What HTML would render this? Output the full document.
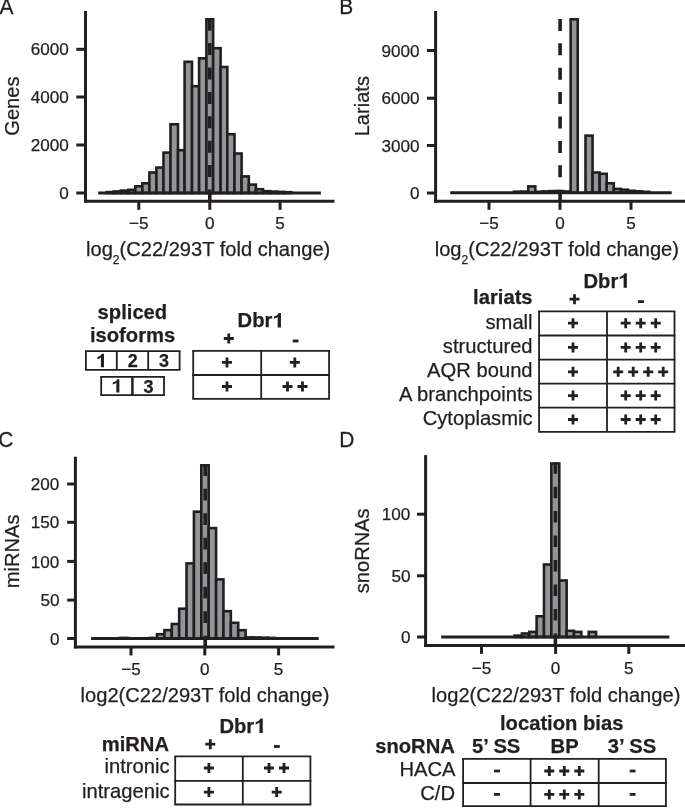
<!DOCTYPE html>
<html><head><meta charset="utf-8"><style>
html,body{margin:0;padding:0;background:#ffffff;}
svg{display:block;will-change:transform;}
text{font-family:"Liberation Sans",sans-serif;fill:#231f20;stroke:#231f20;stroke-width:0.25px;stroke-linejoin:round;}
</style></head><body>
<svg width="685" height="808" viewBox="0 0 685 808">
<rect width="685" height="808" fill="#ffffff"/>
<rect x="106.60" y="192.10" width="7.20" height="0.90" fill="#939598" stroke="#231f20" stroke-width="2.6"/>
<rect x="113.80" y="191.50" width="7.00" height="1.50" fill="#939598" stroke="#231f20" stroke-width="2.6"/>
<rect x="120.80" y="190.60" width="7.60" height="2.40" fill="#939598" stroke="#231f20" stroke-width="2.6"/>
<rect x="128.40" y="189.80" width="7.00" height="3.20" fill="#939598" stroke="#231f20" stroke-width="2.6"/>
<rect x="135.40" y="186.30" width="7.00" height="6.70" fill="#939598" stroke="#231f20" stroke-width="2.6"/>
<rect x="142.40" y="183.30" width="7.00" height="9.70" fill="#939598" stroke="#231f20" stroke-width="2.6"/>
<rect x="149.40" y="172.50" width="7.00" height="20.50" fill="#939598" stroke="#231f20" stroke-width="2.6"/>
<rect x="156.40" y="167.60" width="7.10" height="25.40" fill="#939598" stroke="#231f20" stroke-width="2.6"/>
<rect x="163.50" y="152.60" width="7.00" height="40.40" fill="#939598" stroke="#231f20" stroke-width="2.6"/>
<rect x="170.50" y="124.30" width="7.50" height="68.70" fill="#939598" stroke="#231f20" stroke-width="2.6"/>
<rect x="178.00" y="150.20" width="6.60" height="42.80" fill="#939598" stroke="#231f20" stroke-width="2.6"/>
<rect x="184.60" y="61.80" width="7.40" height="131.20" fill="#939598" stroke="#231f20" stroke-width="2.6"/>
<rect x="192.00" y="86.20" width="7.10" height="106.80" fill="#939598" stroke="#231f20" stroke-width="2.6"/>
<rect x="199.10" y="58.30" width="7.30" height="134.70" fill="#939598" stroke="#231f20" stroke-width="2.6"/>
<rect x="206.40" y="19.30" width="6.75" height="173.70" fill="#939598" stroke="#231f20" stroke-width="2.6"/>
<rect x="213.15" y="48.20" width="7.45" height="144.80" fill="#939598" stroke="#231f20" stroke-width="2.6"/>
<rect x="220.60" y="67.00" width="6.70" height="126.00" fill="#939598" stroke="#231f20" stroke-width="2.6"/>
<rect x="227.30" y="134.20" width="7.20" height="58.80" fill="#939598" stroke="#231f20" stroke-width="2.6"/>
<rect x="234.50" y="153.50" width="7.10" height="39.50" fill="#939598" stroke="#231f20" stroke-width="2.6"/>
<rect x="241.60" y="176.40" width="7.20" height="16.60" fill="#939598" stroke="#231f20" stroke-width="2.6"/>
<rect x="248.80" y="184.60" width="7.10" height="8.40" fill="#939598" stroke="#231f20" stroke-width="2.6"/>
<rect x="255.90" y="189.20" width="7.10" height="3.80" fill="#939598" stroke="#231f20" stroke-width="2.6"/>
<rect x="263.00" y="191.20" width="7.10" height="1.80" fill="#939598" stroke="#231f20" stroke-width="2.6"/>
<rect x="270.10" y="191.60" width="7.10" height="1.40" fill="#939598" stroke="#231f20" stroke-width="2.6"/>
<rect x="277.20" y="191.90" width="7.10" height="1.10" fill="#939598" stroke="#231f20" stroke-width="2.6"/>
<rect x="284.30" y="192.20" width="7.10" height="0.80" fill="#939598" stroke="#231f20" stroke-width="2.6"/>
<line x1="98.20" y1="193.00" x2="320.90" y2="193.00" stroke="#231f20" stroke-width="3.0"/>
<line x1="209.80" y1="18.70" x2="209.80" y2="200.00" stroke="#231f20" stroke-width="3.6" stroke-dasharray="12 12.4" stroke-dashoffset="0"/>
<line x1="85.50" y1="11.00" x2="85.50" y2="202.80" stroke="#231f20" stroke-width="3.0"/>
<line x1="84.00" y1="201.30" x2="334.50" y2="201.30" stroke="#231f20" stroke-width="3.0"/>
<line x1="76.30" y1="49.30" x2="85.50" y2="49.30" stroke="#231f20" stroke-width="3.0"/>
<text x="68.80" y="55.42" font-size="17.1" text-anchor="end">6000</text>
<line x1="76.30" y1="97.00" x2="85.50" y2="97.00" stroke="#231f20" stroke-width="3.0"/>
<text x="68.80" y="103.12" font-size="17.1" text-anchor="end">4000</text>
<line x1="76.30" y1="145.00" x2="85.50" y2="145.00" stroke="#231f20" stroke-width="3.0"/>
<text x="68.80" y="151.12" font-size="17.1" text-anchor="end">2000</text>
<line x1="76.30" y1="193.00" x2="85.50" y2="193.00" stroke="#231f20" stroke-width="3.0"/>
<text x="68.80" y="199.12" font-size="17.1" text-anchor="end">0</text>
<line x1="138.80" y1="201.30" x2="138.80" y2="209.80" stroke="#231f20" stroke-width="3.0"/>
<text x="138.80" y="229.00" font-size="17.1" text-anchor="middle">&#8722;5</text>
<line x1="209.80" y1="201.30" x2="209.80" y2="209.80" stroke="#231f20" stroke-width="3.0"/>
<text x="209.80" y="229.00" font-size="17.1" text-anchor="middle">0</text>
<line x1="280.10" y1="201.30" x2="280.10" y2="209.80" stroke="#231f20" stroke-width="3.0"/>
<text x="280.10" y="229.00" font-size="17.1" text-anchor="middle">5</text>
<rect x="514.10" y="191.70" width="7.07" height="1.00" fill="#939598" stroke="#231f20" stroke-width="2.6"/>
<rect x="521.16" y="191.60" width="7.07" height="1.10" fill="#939598" stroke="#231f20" stroke-width="2.6"/>
<rect x="528.24" y="186.40" width="7.07" height="6.30" fill="#939598" stroke="#231f20" stroke-width="2.6"/>
<rect x="535.30" y="191.80" width="7.07" height="0.90" fill="#939598" stroke="#231f20" stroke-width="2.6"/>
<rect x="542.38" y="191.40" width="7.07" height="1.30" fill="#939598" stroke="#231f20" stroke-width="2.6"/>
<rect x="549.44" y="191.10" width="7.07" height="1.60" fill="#939598" stroke="#231f20" stroke-width="2.6"/>
<rect x="556.51" y="191.10" width="7.07" height="1.60" fill="#939598" stroke="#231f20" stroke-width="2.6"/>
<rect x="563.59" y="191.50" width="7.07" height="1.20" fill="#939598" stroke="#231f20" stroke-width="2.6"/>
<rect x="570.65" y="19.30" width="7.07" height="173.40" fill="#939598" stroke="#231f20" stroke-width="2.6"/>
<rect x="585.50" y="135.60" width="7.07" height="57.10" fill="#939598" stroke="#231f20" stroke-width="2.6"/>
<rect x="592.57" y="172.50" width="7.07" height="20.20" fill="#939598" stroke="#231f20" stroke-width="2.6"/>
<rect x="599.63" y="173.80" width="7.07" height="18.90" fill="#939598" stroke="#231f20" stroke-width="2.6"/>
<rect x="606.71" y="183.30" width="7.07" height="9.40" fill="#939598" stroke="#231f20" stroke-width="2.6"/>
<rect x="613.78" y="188.90" width="7.07" height="3.80" fill="#939598" stroke="#231f20" stroke-width="2.6"/>
<rect x="620.85" y="189.70" width="7.07" height="3.00" fill="#939598" stroke="#231f20" stroke-width="2.6"/>
<rect x="627.92" y="190.80" width="7.07" height="1.90" fill="#939598" stroke="#231f20" stroke-width="2.6"/>
<rect x="634.99" y="191.30" width="7.07" height="1.40" fill="#939598" stroke="#231f20" stroke-width="2.6"/>
<rect x="642.06" y="191.80" width="7.07" height="0.90" fill="#939598" stroke="#231f20" stroke-width="2.6"/>
<line x1="450.20" y1="192.70" x2="671.70" y2="192.70" stroke="#231f20" stroke-width="3.0"/>
<line x1="560.10" y1="18.90" x2="560.10" y2="200.50" stroke="#231f20" stroke-width="3.6" stroke-dasharray="12 12.4" stroke-dashoffset="0"/>
<line x1="435.60" y1="11.00" x2="435.60" y2="202.80" stroke="#231f20" stroke-width="3.0"/>
<line x1="434.10" y1="201.30" x2="685.00" y2="201.30" stroke="#231f20" stroke-width="3.0"/>
<line x1="426.90" y1="50.50" x2="435.60" y2="50.50" stroke="#231f20" stroke-width="3.0"/>
<text x="419.50" y="56.62" font-size="17.1" text-anchor="end">9000</text>
<line x1="426.90" y1="98.20" x2="435.60" y2="98.20" stroke="#231f20" stroke-width="3.0"/>
<text x="419.50" y="104.32" font-size="17.1" text-anchor="end">6000</text>
<line x1="426.90" y1="145.50" x2="435.60" y2="145.50" stroke="#231f20" stroke-width="3.0"/>
<text x="419.50" y="151.62" font-size="17.1" text-anchor="end">3000</text>
<line x1="426.90" y1="193.00" x2="435.60" y2="193.00" stroke="#231f20" stroke-width="3.0"/>
<text x="419.50" y="199.12" font-size="17.1" text-anchor="end">0</text>
<line x1="489.00" y1="201.30" x2="489.00" y2="209.80" stroke="#231f20" stroke-width="3.0"/>
<text x="489.00" y="229.00" font-size="17.1" text-anchor="middle">&#8722;5</text>
<line x1="560.00" y1="201.30" x2="560.00" y2="209.80" stroke="#231f20" stroke-width="3.0"/>
<text x="560.00" y="229.00" font-size="17.1" text-anchor="middle">0</text>
<line x1="631.00" y1="201.30" x2="631.00" y2="209.80" stroke="#231f20" stroke-width="3.0"/>
<text x="631.00" y="229.00" font-size="17.1" text-anchor="middle">5</text>
<rect x="120.13" y="637.90" width="7.38" height="0.60" fill="#939598" stroke="#231f20" stroke-width="2.6"/>
<rect x="149.65" y="637.90" width="7.38" height="0.60" fill="#939598" stroke="#231f20" stroke-width="2.6"/>
<rect x="157.03" y="634.20" width="7.38" height="4.30" fill="#939598" stroke="#231f20" stroke-width="2.6"/>
<rect x="164.41" y="630.10" width="7.38" height="8.40" fill="#939598" stroke="#231f20" stroke-width="2.6"/>
<rect x="171.79" y="624.00" width="7.38" height="14.50" fill="#939598" stroke="#231f20" stroke-width="2.6"/>
<rect x="179.17" y="608.70" width="7.38" height="29.80" fill="#939598" stroke="#231f20" stroke-width="2.6"/>
<rect x="186.55" y="563.40" width="7.38" height="75.10" fill="#939598" stroke="#231f20" stroke-width="2.6"/>
<rect x="193.93" y="511.70" width="7.38" height="126.80" fill="#939598" stroke="#231f20" stroke-width="2.6"/>
<rect x="201.31" y="465.30" width="7.38" height="173.20" fill="#939598" stroke="#231f20" stroke-width="2.6"/>
<rect x="208.69" y="528.10" width="7.38" height="110.40" fill="#939598" stroke="#231f20" stroke-width="2.6"/>
<rect x="216.07" y="579.40" width="7.38" height="59.10" fill="#939598" stroke="#231f20" stroke-width="2.6"/>
<rect x="223.45" y="611.20" width="7.38" height="27.30" fill="#939598" stroke="#231f20" stroke-width="2.6"/>
<rect x="230.83" y="622.80" width="7.38" height="15.70" fill="#939598" stroke="#231f20" stroke-width="2.6"/>
<rect x="238.21" y="630.20" width="7.38" height="8.30" fill="#939598" stroke="#231f20" stroke-width="2.6"/>
<rect x="245.59" y="637.40" width="7.38" height="1.10" fill="#939598" stroke="#231f20" stroke-width="2.6"/>
<rect x="252.97" y="637.50" width="7.38" height="1.00" fill="#939598" stroke="#231f20" stroke-width="2.6"/>
<rect x="260.35" y="637.70" width="7.38" height="0.80" fill="#939598" stroke="#231f20" stroke-width="2.6"/>
<rect x="267.73" y="637.90" width="7.38" height="0.60" fill="#939598" stroke="#231f20" stroke-width="2.6"/>
<line x1="91.10" y1="638.50" x2="318.70" y2="638.50" stroke="#231f20" stroke-width="3.0"/>
<line x1="205.20" y1="464.30" x2="205.20" y2="646.00" stroke="#231f20" stroke-width="3.6" stroke-dasharray="11.6 12.9" stroke-dashoffset="0"/>
<line x1="75.40" y1="456.70" x2="75.40" y2="648.40" stroke="#231f20" stroke-width="3.0"/>
<line x1="73.90" y1="646.90" x2="334.50" y2="646.90" stroke="#231f20" stroke-width="3.0"/>
<line x1="67.20" y1="484.00" x2="75.40" y2="484.00" stroke="#231f20" stroke-width="3.0"/>
<text x="59.40" y="490.12" font-size="17.1" text-anchor="end">200</text>
<line x1="67.20" y1="522.30" x2="75.40" y2="522.30" stroke="#231f20" stroke-width="3.0"/>
<text x="59.40" y="528.42" font-size="17.1" text-anchor="end">150</text>
<line x1="67.20" y1="561.40" x2="75.40" y2="561.40" stroke="#231f20" stroke-width="3.0"/>
<text x="59.40" y="567.52" font-size="17.1" text-anchor="end">100</text>
<line x1="67.20" y1="600.10" x2="75.40" y2="600.10" stroke="#231f20" stroke-width="3.0"/>
<text x="59.40" y="606.22" font-size="17.1" text-anchor="end">50</text>
<line x1="67.20" y1="638.50" x2="75.40" y2="638.50" stroke="#231f20" stroke-width="3.0"/>
<text x="59.40" y="644.62" font-size="17.1" text-anchor="end">0</text>
<line x1="131.00" y1="646.90" x2="131.00" y2="655.40" stroke="#231f20" stroke-width="3.0"/>
<text x="131.00" y="675.00" font-size="17.1" text-anchor="middle">&#8722;5</text>
<line x1="204.80" y1="646.90" x2="204.80" y2="655.40" stroke="#231f20" stroke-width="3.0"/>
<text x="204.80" y="675.00" font-size="17.1" text-anchor="middle">0</text>
<line x1="278.60" y1="646.90" x2="278.60" y2="655.40" stroke="#231f20" stroke-width="3.0"/>
<text x="278.60" y="675.00" font-size="17.1" text-anchor="middle">5</text>
<rect x="514.58" y="635.60" width="7.35" height="1.40" fill="#939598" stroke="#231f20" stroke-width="2.6"/>
<rect x="521.93" y="633.50" width="7.35" height="3.50" fill="#939598" stroke="#231f20" stroke-width="2.6"/>
<rect x="529.28" y="631.90" width="7.35" height="5.10" fill="#939598" stroke="#231f20" stroke-width="2.6"/>
<rect x="536.62" y="616.30" width="7.35" height="20.70" fill="#939598" stroke="#231f20" stroke-width="2.6"/>
<rect x="543.98" y="564.50" width="7.35" height="72.50" fill="#939598" stroke="#231f20" stroke-width="2.6"/>
<rect x="551.33" y="463.50" width="7.95" height="173.50" fill="#939598" stroke="#231f20" stroke-width="2.6"/>
<rect x="559.28" y="580.50" width="7.35" height="56.50" fill="#939598" stroke="#231f20" stroke-width="2.6"/>
<rect x="566.63" y="630.80" width="7.35" height="6.20" fill="#939598" stroke="#231f20" stroke-width="2.6"/>
<rect x="573.98" y="631.90" width="7.35" height="5.10" fill="#939598" stroke="#231f20" stroke-width="2.6"/>
<rect x="588.68" y="631.90" width="7.35" height="5.10" fill="#939598" stroke="#231f20" stroke-width="2.6"/>
<line x1="441.20" y1="637.00" x2="669.30" y2="637.00" stroke="#231f20" stroke-width="3.0"/>
<line x1="555.40" y1="462.20" x2="555.40" y2="645.00" stroke="#231f20" stroke-width="3.6" stroke-dasharray="11.5 12.96" stroke-dashoffset="0"/>
<line x1="425.60" y1="455.10" x2="425.60" y2="646.90" stroke="#231f20" stroke-width="3.0"/>
<line x1="424.10" y1="645.40" x2="685.00" y2="645.40" stroke="#231f20" stroke-width="3.0"/>
<line x1="417.00" y1="514.20" x2="425.60" y2="514.20" stroke="#231f20" stroke-width="3.0"/>
<text x="410.40" y="520.32" font-size="17.1" text-anchor="end">100</text>
<line x1="417.00" y1="575.80" x2="425.60" y2="575.80" stroke="#231f20" stroke-width="3.0"/>
<text x="410.40" y="581.92" font-size="17.1" text-anchor="end">50</text>
<line x1="417.00" y1="637.00" x2="425.60" y2="637.00" stroke="#231f20" stroke-width="3.0"/>
<text x="410.40" y="643.12" font-size="17.1" text-anchor="end">0</text>
<line x1="481.50" y1="645.40" x2="481.50" y2="653.90" stroke="#231f20" stroke-width="3.0"/>
<text x="481.50" y="673.50" font-size="17.1" text-anchor="middle">&#8722;5</text>
<line x1="555.60" y1="645.40" x2="555.60" y2="653.90" stroke="#231f20" stroke-width="3.0"/>
<text x="555.60" y="673.50" font-size="17.1" text-anchor="middle">0</text>
<line x1="628.80" y1="645.40" x2="628.80" y2="653.90" stroke="#231f20" stroke-width="3.0"/>
<text x="628.80" y="673.50" font-size="17.1" text-anchor="middle">5</text>
<text x="86" y="255.6" font-size="20.1">log<tspan font-size="12" dy="8">2</tspan><tspan dy="-8">(C22/293T fold change)</tspan></text>
<text x="434.7" y="255.6" font-size="20.1">log<tspan font-size="12" dy="8">2</tspan><tspan dy="-8">(C22/293T fold change)</tspan></text>
<text x="80.60" y="701.70" font-size="20.1" text-anchor="start">log2(C22/293T fold change)</text>
<text x="431.60" y="701.70" font-size="20.1" text-anchor="start">log2(C22/293T fold change)</text>
<text x="0" y="0" font-size="20.1" text-anchor="middle" transform="translate(19.20,106.10) rotate(-90)">Genes</text>
<text x="0" y="0" font-size="20.1" text-anchor="middle" transform="translate(369.30,106.20) rotate(-90)">Lariats</text>
<text x="0" y="0" font-size="20.1" text-anchor="middle" transform="translate(19.00,551.40) rotate(-90)">miRNAs</text>
<text x="0" y="0" font-size="20.1" text-anchor="middle" transform="translate(369.20,550.80) rotate(-90)">snoRNAs</text>
<text x="0" y="0" font-size="21" transform="translate(-0.56,14.0) scale(1,1.02)">A</text>
<text x="0" y="0" font-size="21" transform="translate(339.2,14.0) scale(1,1.02)">B</text>
<text x="0" y="0" font-size="21" transform="translate(-1.8,446.7) scale(1,1.02)">C</text>
<text x="0" y="0" font-size="21" transform="translate(339.2,446.5) scale(1,1.02)">D</text>
<text x="132.40" y="318.70" font-size="20.2" text-anchor="middle" font-weight="bold">spliced</text>
<text x="132.60" y="342.00" font-size="20.2" text-anchor="middle" font-weight="bold">isoforms</text>
<line x1="85.00" y1="351.20" x2="180.50" y2="351.20" stroke="#231f20" stroke-width="1.8"/>
<line x1="85.00" y1="369.80" x2="180.50" y2="369.80" stroke="#231f20" stroke-width="1.8"/>
<line x1="85.90" y1="351.20" x2="85.90" y2="369.80" stroke="#231f20" stroke-width="1.8"/>
<line x1="116.80" y1="351.20" x2="116.80" y2="369.80" stroke="#231f20" stroke-width="1.8"/>
<line x1="148.20" y1="351.20" x2="148.20" y2="369.80" stroke="#231f20" stroke-width="1.8"/>
<line x1="179.60" y1="351.20" x2="179.60" y2="369.80" stroke="#231f20" stroke-width="1.8"/>
<line x1="100.30" y1="376.90" x2="164.90" y2="376.90" stroke="#231f20" stroke-width="1.8"/>
<line x1="100.30" y1="395.10" x2="164.90" y2="395.10" stroke="#231f20" stroke-width="1.8"/>
<line x1="101.20" y1="376.90" x2="101.20" y2="395.10" stroke="#231f20" stroke-width="1.8"/>
<line x1="164.00" y1="376.90" x2="164.00" y2="395.10" stroke="#231f20" stroke-width="1.8"/>
<line x1="132.4" y1="376.9" x2="132.4" y2="395.1" stroke="#231f20" stroke-width="2.5"/>
<text x="132.70" y="367.20" font-size="18" text-anchor="middle" font-weight="bold">2</text>
<text x="163.90" y="367.20" font-size="18" text-anchor="middle" font-weight="bold">3</text>
<text x="148.60" y="392.50" font-size="18" text-anchor="middle" font-weight="bold">3</text>
<path d="M103.98 367.30L103.98 353.84L101.82 353.84C101.25 355.46 99.56 356.68 97.40 357.05L97.40 359.22C98.81 358.93 100.13 358.28 100.92 357.52L100.92 367.30Z" fill="#231f20"/>
<path d="M119.38 392.60L119.38 379.14L117.22 379.14C116.65 380.76 114.96 381.98 112.80 382.35L112.80 384.52C114.21 384.23 115.53 383.58 116.32 382.82L116.32 392.60Z" fill="#231f20"/>
<text x="237.59" y="327.40" font-size="20.2" font-weight="bold">Dbr</text>
<path d="M280.96 327.40L280.96 312.94L278.64 312.94C278.03 314.67 276.21 315.99 273.89 316.39L273.89 318.71C275.41 318.41 276.82 317.70 277.67 316.90L277.67 327.40Z" fill="#231f20"/>
<path d="M223.80 338.50H233.80M228.80 333.50V343.50" stroke="#231f20" stroke-width="2.8" fill="none"/>
<path d="M292.70 341.00H298.50" stroke="#231f20" stroke-width="2.8" fill="none"/>
<line x1="192.30" y1="350.90" x2="330.00" y2="350.90" stroke="#231f20" stroke-width="1.8"/>
<line x1="192.30" y1="375.00" x2="330.00" y2="375.00" stroke="#231f20" stroke-width="1.8"/>
<line x1="192.30" y1="398.90" x2="330.00" y2="398.90" stroke="#231f20" stroke-width="1.8"/>
<line x1="193.20" y1="350.90" x2="193.20" y2="398.90" stroke="#231f20" stroke-width="1.8"/>
<line x1="261.20" y1="350.90" x2="261.20" y2="398.90" stroke="#231f20" stroke-width="1.8"/>
<line x1="329.10" y1="350.90" x2="329.10" y2="398.90" stroke="#231f20" stroke-width="1.8"/>
<path d="M222.00 362.40H232.00M227.00 357.40V367.40" stroke="#231f20" stroke-width="2.8" fill="none"/>
<path d="M289.80 362.40H299.80M294.80 357.40V367.40" stroke="#231f20" stroke-width="2.8" fill="none"/>
<path d="M222.00 386.50H232.00M227.00 381.50V391.50" stroke="#231f20" stroke-width="2.8" fill="none"/>
<path d="M282.50 386.50H292.50M287.50 381.50V391.50" stroke="#231f20" stroke-width="2.8" fill="none"/>
<path d="M297.50 386.50H307.50M302.50 381.50V391.50" stroke="#231f20" stroke-width="2.8" fill="none"/>
<text x="583.49" y="287.70" font-size="20.2" font-weight="bold">Dbr</text>
<path d="M626.86 287.70L626.86 273.24L624.54 273.24C623.93 274.97 622.11 276.29 619.79 276.69L619.79 279.01C621.31 278.71 622.72 278.00 623.57 277.20L623.57 287.70Z" fill="#231f20"/>
<text x="532.60" y="303.90" font-size="20.2" text-anchor="end" font-weight="bold">lariats</text>
<path d="M569.50 299.20H579.50M574.50 294.20V304.20" stroke="#231f20" stroke-width="2.8" fill="none"/>
<path d="M638.10 301.60H643.90" stroke="#231f20" stroke-width="2.8" fill="none"/>
<line x1="538.15" y1="311.40" x2="675.40" y2="311.40" stroke="#231f20" stroke-width="1.8"/>
<line x1="538.15" y1="335.50" x2="675.40" y2="335.50" stroke="#231f20" stroke-width="1.8"/>
<line x1="538.15" y1="359.60" x2="675.40" y2="359.60" stroke="#231f20" stroke-width="1.8"/>
<line x1="538.15" y1="383.60" x2="675.40" y2="383.60" stroke="#231f20" stroke-width="1.8"/>
<line x1="538.15" y1="407.70" x2="675.40" y2="407.70" stroke="#231f20" stroke-width="1.8"/>
<line x1="538.15" y1="431.80" x2="675.40" y2="431.80" stroke="#231f20" stroke-width="1.8"/>
<line x1="539.05" y1="311.40" x2="539.05" y2="431.80" stroke="#231f20" stroke-width="1.8"/>
<line x1="607.00" y1="311.40" x2="607.00" y2="431.80" stroke="#231f20" stroke-width="1.8"/>
<line x1="674.50" y1="311.40" x2="674.50" y2="431.80" stroke="#231f20" stroke-width="1.8"/>
<text x="532.60" y="328.60" font-size="20.2" text-anchor="end">small</text>
<text x="532.60" y="352.70" font-size="20.2" text-anchor="end">structured</text>
<text x="532.60" y="376.80" font-size="20.2" text-anchor="end">AQR bound</text>
<text x="532.60" y="400.90" font-size="20.2" text-anchor="end">A branchpoints</text>
<text x="532.60" y="424.60" font-size="20.2" text-anchor="end">Cytoplasmic</text>
<path d="M568.00 323.20H578.00M573.00 318.20V328.20" stroke="#231f20" stroke-width="2.8" fill="none"/>
<path d="M620.70 323.20H630.70M625.70 318.20V328.20" stroke="#231f20" stroke-width="2.8" fill="none"/>
<path d="M635.70 323.20H645.70M640.70 318.20V328.20" stroke="#231f20" stroke-width="2.8" fill="none"/>
<path d="M650.70 323.20H660.70M655.70 318.20V328.20" stroke="#231f20" stroke-width="2.8" fill="none"/>
<path d="M568.00 347.40H578.00M573.00 342.40V352.40" stroke="#231f20" stroke-width="2.8" fill="none"/>
<path d="M620.70 347.40H630.70M625.70 342.40V352.40" stroke="#231f20" stroke-width="2.8" fill="none"/>
<path d="M635.70 347.40H645.70M640.70 342.40V352.40" stroke="#231f20" stroke-width="2.8" fill="none"/>
<path d="M650.70 347.40H660.70M655.70 342.40V352.40" stroke="#231f20" stroke-width="2.8" fill="none"/>
<path d="M568.00 371.80H578.00M573.00 366.80V376.80" stroke="#231f20" stroke-width="2.8" fill="none"/>
<path d="M613.20 371.80H623.20M618.20 366.80V376.80" stroke="#231f20" stroke-width="2.8" fill="none"/>
<path d="M628.20 371.80H638.20M633.20 366.80V376.80" stroke="#231f20" stroke-width="2.8" fill="none"/>
<path d="M643.20 371.80H653.20M648.20 366.80V376.80" stroke="#231f20" stroke-width="2.8" fill="none"/>
<path d="M658.20 371.80H668.20M663.20 366.80V376.80" stroke="#231f20" stroke-width="2.8" fill="none"/>
<path d="M568.00 395.60H578.00M573.00 390.60V400.60" stroke="#231f20" stroke-width="2.8" fill="none"/>
<path d="M620.70 395.60H630.70M625.70 390.60V400.60" stroke="#231f20" stroke-width="2.8" fill="none"/>
<path d="M635.70 395.60H645.70M640.70 390.60V400.60" stroke="#231f20" stroke-width="2.8" fill="none"/>
<path d="M650.70 395.60H660.70M655.70 390.60V400.60" stroke="#231f20" stroke-width="2.8" fill="none"/>
<path d="M568.00 419.50H578.00M573.00 414.50V424.50" stroke="#231f20" stroke-width="2.8" fill="none"/>
<path d="M620.70 419.50H630.70M625.70 414.50V424.50" stroke="#231f20" stroke-width="2.8" fill="none"/>
<path d="M635.70 419.50H645.70M640.70 414.50V424.50" stroke="#231f20" stroke-width="2.8" fill="none"/>
<path d="M650.70 419.50H660.70M655.70 414.50V424.50" stroke="#231f20" stroke-width="2.8" fill="none"/>
<text x="219.39" y="733.00" font-size="20.2" font-weight="bold">Dbr</text>
<path d="M262.76 733.00L262.76 718.54L260.44 718.54C259.83 720.27 258.01 721.59 255.69 721.99L255.69 724.31C257.21 724.01 258.62 723.30 259.47 722.50L259.47 733.00Z" fill="#231f20"/>
<text x="169.00" y="750.80" font-size="20.2" text-anchor="end" font-weight="bold">miRNA</text>
<path d="M205.30 744.20H215.30M210.30 739.20V749.20" stroke="#231f20" stroke-width="2.8" fill="none"/>
<path d="M274.00 746.50H279.80" stroke="#231f20" stroke-width="2.8" fill="none"/>
<line x1="174.30" y1="756.30" x2="311.30" y2="756.30" stroke="#231f20" stroke-width="1.8"/>
<line x1="174.30" y1="780.80" x2="311.30" y2="780.80" stroke="#231f20" stroke-width="1.8"/>
<line x1="174.30" y1="804.50" x2="311.30" y2="804.50" stroke="#231f20" stroke-width="1.8"/>
<line x1="175.20" y1="756.30" x2="175.20" y2="804.50" stroke="#231f20" stroke-width="1.8"/>
<line x1="242.80" y1="756.30" x2="242.80" y2="804.50" stroke="#231f20" stroke-width="1.8"/>
<line x1="310.40" y1="756.30" x2="310.40" y2="804.50" stroke="#231f20" stroke-width="1.8"/>
<text x="169.60" y="773.20" font-size="20.2" text-anchor="end">intronic</text>
<text x="169.60" y="797.80" font-size="20.2" text-anchor="end">intragenic</text>
<path d="M203.90 768.00H213.90M208.90 763.00V773.00" stroke="#231f20" stroke-width="2.8" fill="none"/>
<path d="M264.00 768.00H274.00M269.00 763.00V773.00" stroke="#231f20" stroke-width="2.8" fill="none"/>
<path d="M279.00 768.00H289.00M284.00 763.00V773.00" stroke="#231f20" stroke-width="2.8" fill="none"/>
<path d="M203.90 792.10H213.90M208.90 787.10V797.10" stroke="#231f20" stroke-width="2.8" fill="none"/>
<path d="M271.70 792.10H281.70M276.70 787.10V797.10" stroke="#231f20" stroke-width="2.8" fill="none"/>
<text x="561.70" y="729.90" font-size="20.2" text-anchor="middle" font-weight="bold">location bias</text>
<text x="454.80" y="752.80" font-size="20.2" text-anchor="end" font-weight="bold">snoRNA</text>
<text x="496.20" y="752.90" font-size="20.2" text-anchor="middle" font-weight="bold">5&#8217; SS</text>
<text x="564.60" y="752.90" font-size="20.2" text-anchor="middle" font-weight="bold">BP</text>
<text x="632.00" y="752.90" font-size="20.2" text-anchor="middle" font-weight="bold">3&#8217; SS</text>
<line x1="462.20" y1="758.90" x2="666.80" y2="758.90" stroke="#231f20" stroke-width="1.8"/>
<line x1="462.20" y1="783.00" x2="666.80" y2="783.00" stroke="#231f20" stroke-width="1.8"/>
<line x1="462.20" y1="806.20" x2="666.80" y2="806.20" stroke="#231f20" stroke-width="1.8"/>
<line x1="463.10" y1="758.90" x2="463.10" y2="806.20" stroke="#231f20" stroke-width="1.8"/>
<line x1="530.60" y1="758.90" x2="530.60" y2="806.20" stroke="#231f20" stroke-width="1.8"/>
<line x1="598.70" y1="758.90" x2="598.70" y2="806.20" stroke="#231f20" stroke-width="1.8"/>
<line x1="665.90" y1="758.90" x2="665.90" y2="806.20" stroke="#231f20" stroke-width="1.8"/>
<text x="455.50" y="776.10" font-size="20.2" text-anchor="end">HACA</text>
<text x="455.00" y="799.90" font-size="20.2" text-anchor="end">C/D</text>
<path d="M494.10 771.00H499.90" stroke="#231f20" stroke-width="2.8" fill="none"/>
<path d="M544.30 771.00H554.30M549.30 766.00V776.00" stroke="#231f20" stroke-width="2.8" fill="none"/>
<path d="M559.30 771.00H569.30M564.30 766.00V776.00" stroke="#231f20" stroke-width="2.8" fill="none"/>
<path d="M574.30 771.00H584.30M579.30 766.00V776.00" stroke="#231f20" stroke-width="2.8" fill="none"/>
<path d="M629.70 771.00H635.50" stroke="#231f20" stroke-width="2.8" fill="none"/>
<path d="M494.10 794.40H499.90" stroke="#231f20" stroke-width="2.8" fill="none"/>
<path d="M544.30 794.40H554.30M549.30 789.40V799.40" stroke="#231f20" stroke-width="2.8" fill="none"/>
<path d="M559.30 794.40H569.30M564.30 789.40V799.40" stroke="#231f20" stroke-width="2.8" fill="none"/>
<path d="M574.30 794.40H584.30M579.30 789.40V799.40" stroke="#231f20" stroke-width="2.8" fill="none"/>
<path d="M629.70 794.40H635.50" stroke="#231f20" stroke-width="2.8" fill="none"/>
</svg>
</body></html>
